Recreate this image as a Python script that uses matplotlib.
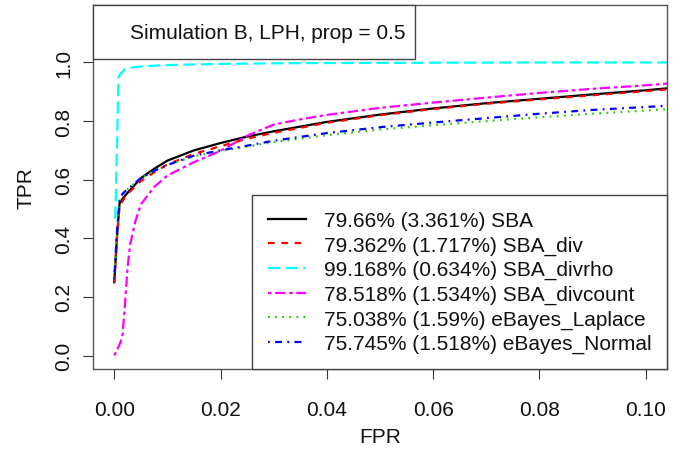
import numpy as np
import matplotlib
matplotlib.use("Agg")
from matplotlib import pyplot as plt
from matplotlib.lines import Line2D

plt.rcParams['font.family'] = ['Liberation Sans', 'DejaVu Sans']

# ROC curves (FPR, TPR)
fpr_sba = [0, 0.0005, 0.001, 0.002, 0.003, 0.005, 0.0075, 0.01, 0.015, 0.02, 0.025,
           0.03, 0.04, 0.05, 0.06, 0.07, 0.08, 0.09, 0.1, 0.106]
tpr_sba = [0.25, 0.40, 0.52, 0.545, 0.565, 0.605, 0.637, 0.665, 0.700, 0.725, 0.747,
           0.765, 0.797, 0.822, 0.843, 0.861, 0.876, 0.891, 0.905, 0.915]

fpr_div = fpr_sba
tpr_div = [0.25, 0.40, 0.51, 0.54, 0.56, 0.595, 0.625, 0.652, 0.688, 0.714, 0.740,
           0.760, 0.794, 0.820, 0.841, 0.859, 0.874, 0.888, 0.902, 0.911]

fpr_divrho = [0, 0.0002, 0.0008, 0.0012, 0.002, 0.003, 0.005, 0.0075, 0.01, 0.015,
              0.02, 0.03, 0.04, 0.06, 0.08, 0.106]
tpr_divrho = [0.47, 0.47, 0.95, 0.962, 0.977, 0.982, 0.986, 0.989, 0.991, 0.993,
              0.995, 0.997, 0.998, 0.999, 1.0, 1.0]

fpr_divcount = [0, 0.0008, 0.0015, 0.002, 0.0025, 0.003, 0.004, 0.005, 0.0075, 0.01,
                0.015, 0.02, 0.025, 0.03, 0.035, 0.04, 0.05, 0.06, 0.07, 0.08, 0.09,
                0.1, 0.106]
tpr_divcount = [0.0, 0.03, 0.06, 0.17, 0.30, 0.38, 0.46, 0.515, 0.575, 0.614,
                0.660, 0.698, 0.750, 0.788, 0.806, 0.821, 0.845, 0.863, 0.880, 0.896,
                0.910, 0.922, 0.931]

fpr_laplace = [0, 0.0005, 0.001, 0.0015, 0.002, 0.003, 0.005, 0.0075, 0.01, 0.015,
               0.02, 0.025, 0.03, 0.04, 0.05, 0.06, 0.07, 0.08, 0.09, 0.1, 0.106]
tpr_laplace = [0.26, 0.42, 0.53, 0.55, 0.56, 0.575, 0.605, 0.63, 0.65, 0.68,
               0.698, 0.713, 0.728, 0.752, 0.771, 0.786, 0.800, 0.813, 0.825, 0.836, 0.843]

fpr_normal = fpr_laplace
tpr_normal = [0.26, 0.42, 0.53, 0.55, 0.56, 0.575, 0.605, 0.63, 0.65, 0.682,
              0.700, 0.716, 0.733, 0.759, 0.779, 0.795, 0.810, 0.825, 0.838, 0.848, 0.854]

labels = ["79.66% (3.361%) SBA", "79.362% (1.717%) SBA_div",
          "99.168% (0.634%) SBA_divrho", "78.518% (1.534%) SBA_divcount",
          "75.038% (1.59%) eBayes_Laplace", "75.745% (1.518%) eBayes_Normal"]
title_text = "Simulation B, LPH, prop = 0.5"

series = [
    (fpr_sba, tpr_sba, "black", None),
    (fpr_div, tpr_div, "red", (3.0, 3.0)),
    (fpr_divrho, tpr_divrho, "cyan", (5.5, 2.4)),
    (fpr_divcount, tpr_divcount, "magenta", (1.6, 1.6, 4.7, 1.6)),
    (fpr_laplace, tpr_laplace, "#22cc00", (0.8, 2.4)),
    (fpr_normal, tpr_normal, "blue", (0.8, 2.4, 3.1, 2.4)),
]

fig = plt.figure(figsize=(6.86, 4.52), dpi=100)
ax = fig.add_axes([93 / 686, 1 - 370 / 452, 574 / 686, 364 / 452])

handles = []
for (x, y, col, dash), lab in zip(series, labels):
    ln, = ax.plot(x, y, color=col, lw=1.6, label=lab)
    if dash is not None:
        ln.set_dashes(dash)
    handles.append(ln)

ax.set_xlim(-0.004, 0.104)
ax.set_ylim(-0.046, 1.196)
ax.set_xticks([0, 0.02, 0.04, 0.06, 0.08, 0.10])
ax.set_xticklabels(["0.00", "0.02", "0.04", "0.06", "0.08", "0.10"])
ax.set_yticks([0, 0.2, 0.4, 0.6, 0.8, 1.0])
ax.set_yticklabels(["0.0", "0.2", "0.4", "0.6", "0.8", "1.0"], rotation=90, va="center")
ax.tick_params(axis="both", labelsize=15, length=7, width=0.8, color="#333333",
               labelcolor="#111111")
ax.tick_params(axis="x", pad=15)
ax.tick_params(axis="y", pad=7)
for s in ax.spines.values():
    s.set_color("#555555")
    s.set_linewidth(1.0)

ax.set_xlabel("FPR", fontsize=15, labelpad=6, color="#111111")
ax.set_ylabel("TPR", fontsize=15, labelpad=14, color="#111111")

leg = ax.legend(handles=handles, loc="lower right", bbox_to_anchor=(1, 0),
                borderaxespad=0, fontsize=15, handlelength=1.85, handletextpad=0.85,
                borderpad=0.75, labelspacing=0.26, fancybox=False, framealpha=1,
                edgecolor="#444444")
leg.get_frame().set_linewidth(1.0)
for t in leg.get_texts():
    t.set_color("#111111")
ax.add_artist(leg)

blank = Line2D([], [], color="none")
tleg = ax.legend(handles=[blank], labels=[title_text], loc="upper left",
                 bbox_to_anchor=(0, 1), borderaxespad=0, fontsize=15,
                 handlelength=0.85, handletextpad=0.5, borderpad=0.45,
                 handleheight=2.2, fancybox=False, framealpha=1,
                 edgecolor="#444444")
tleg.get_frame().set_linewidth(1.0)
tleg.get_texts()[0].set_color("#111111")

fig.savefig("out.png", dpi=100)
